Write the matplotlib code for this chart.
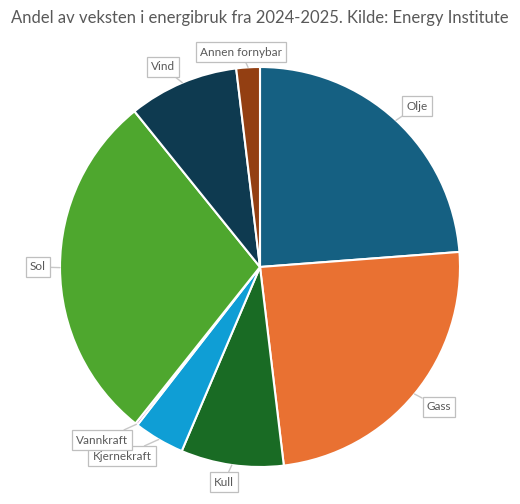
import matplotlib
matplotlib.use("Agg")
import matplotlib.pyplot as plt
import numpy as np

categories = ["Olje", "Gass", "Kull", "Kjernekraft", "Vannkraft", "Sol", "Vind", "Annen fornybar"]
shares = [23.8, 24.3, 8.3, 4.1, 0.2, 28.5, 8.9, 1.9]
colors = ["#156082", "#E97132", "#196B24", "#0F9ED5", "#A02B93", "#4EA72E", "#0E3A50", "#933F12"]
title = "Andel av veksten i energibruk fra 2024-2025. Kilde: Energy Institute"

# label box centres in pixel coords (x, y from top)
label_pos = [(417, 106), (439, 407), (224, 482), (122, 456), (102, 440), (38, 267), (163, 67), (241, 52)]

W, H = 520, 504
fig = plt.figure(figsize=(W / 100, H / 100), dpi=100)
ax = fig.add_axes([0, 0, 1, 1])

cx, cy, r = 260, H - 267, 200
wedges, _ = ax.pie(shares, colors=colors, startangle=90, counterclock=False,
                   center=(cx, cy), radius=r, frame=True,
                   wedgeprops=dict(edgecolor="white", linewidth=1.5))
ax.set_xlim(0, W)
ax.set_ylim(0, H)
ax.set_aspect("equal")
ax.axis("off")

for w, name, (lx, ly) in zip(wedges, categories, label_pos):
    mid = np.deg2rad((w.theta1 + w.theta2) / 2)
    px, py = cx + r * np.cos(mid), cy + r * np.sin(mid)
    ax.annotate(name, xy=(px, py), xytext=(lx, H - ly), ha="center", va="center",
                fontsize=8.5, color="#595959", family="Lato",
                bbox=dict(boxstyle="square,pad=0.35", fc="white", ec="#bfbfbf", lw=0.9),
                arrowprops=dict(arrowstyle="-", color="#c8c8c8", lw=1.0, shrinkA=0, shrinkB=0))

fig.text(0.5, 1 - 18 / H, title, ha="center", va="center", fontsize=12,
         color="#595959", family="Lato")

fig.savefig("out.png", dpi=100)
